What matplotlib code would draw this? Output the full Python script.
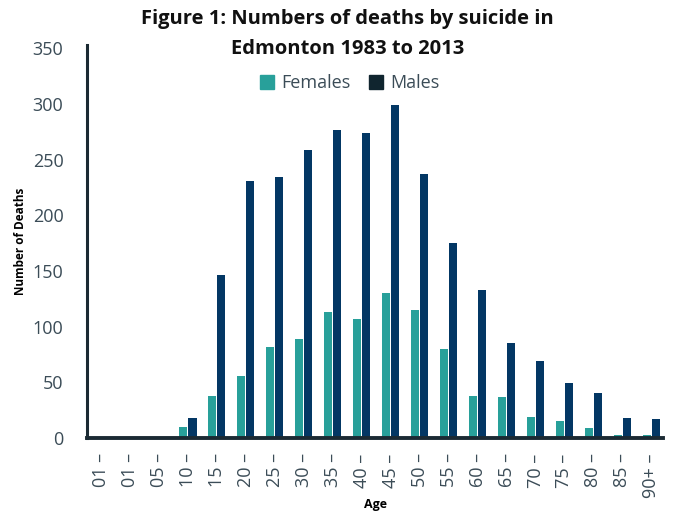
import numpy as np
import matplotlib
matplotlib.use("Agg")
import matplotlib.pyplot as plt
from matplotlib.patches import Patch

ages = ["01", "01", "05", "10", "15", "20", "25", "30", "35", "40",
        "45", "50", "55", "60", "65", "70", "75", "80", "85", "90+"]
females = [0, 0, 0, 10, 38, 56, 82, 89, 113, 107,
           130, 115, 80, 38, 37, 19, 15, 9, 3, 3]
males = [0, 0, 0, 18, 146, 231, 234, 259, 277, 274,
         299, 237, 175, 133, 85, 69, 49, 40, 18, 17]

teal = "#28a09a"
navy = "#033764"
dark = "#1b2a33"
txt = "#3b4c57"

plt.rcParams["font.family"] = ["Open Sans", "DejaVu Sans"]

fig = plt.figure(figsize=(6.73, 5.13), dpi=100)
ax = fig.add_axes([87 / 673, 1 - 438 / 513, (663 - 87) / 673, (438 - 45) / 513])

x = np.arange(len(ages))
w = 0.28
ax.bar(x - w / 2 - 0.02, females, width=w, color=teal)
ax.bar(x + w / 2 + 0.02, males, width=w, color=navy)

ax.set_xlim(-0.48, 19.4)
ax.set_ylim(0, 353)
ax.set_yticks(range(0, 351, 50))
ax.set_xticks(x)
ax.set_xticklabels([a + " \u2013" for a in ages], rotation=90, fontsize=13, color=txt)
ax.tick_params(axis="x", length=0, pad=11)
ax.tick_params(axis="y", length=0, pad=17, labelsize=13, labelcolor=txt)

for s in ["top", "right"]:
    ax.spines[s].set_visible(False)
ax.spines["left"].set_color(dark)
ax.spines["left"].set_linewidth(2.2)
ax.spines["bottom"].set_color(dark)
ax.spines["bottom"].set_linewidth(2.8)

ax.set_ylabel("Number of Deaths", fontsize=8.5, fontweight="bold", color="black", labelpad=4)
ax.set_xlabel("Age", fontsize=9, fontweight="bold", color="black", labelpad=0)

fig.text(0.516, 0.982, "Figure 1: Numbers of deaths by suicide in\nEdmonton 1983 to 2013",
         ha="center", va="top", fontsize=14.5, fontweight="bold", color="#111111",
         linespacing=1.65)

handles = [Patch(color=teal, label="Females"), Patch(color="#10252f", label="Males")]
fig.legend(handles=handles, loc="center", bbox_to_anchor=(0.52, 0.838), ncol=2,
           frameon=False, fontsize=13, handlelength=0.8, handleheight=0.8,
           handletextpad=0.4, columnspacing=1.0, labelcolor=txt)

fig.savefig("out.png", dpi=100)
